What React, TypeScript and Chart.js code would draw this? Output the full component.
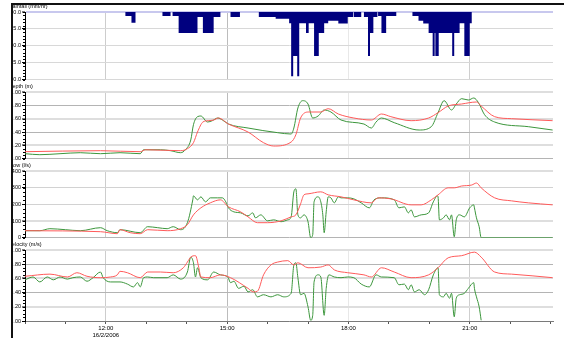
import React, { useEffect, useRef } from 'react';
import { Chart, registerables } from 'chart.js';
Chart.register(...registerables);

const FONT = '"Liberation Sans", Arial, sans-serif';

// ---------- DATA ----------
const xLabelHours = [12, 15, 18, 21];
const dateLabel = '16/2/2006';

const rainTimes = ['10:00','12:29','12:38','12:44','13:24','13:36','13:39','13:48','14:16','14:24','14:40','14:50','15:05','15:19','15:47','16:12','16:32','16:35','16:38','16:44','16:47','16:57','17:01','17:09','17:16','17:24','17:30','17:45','17:59','18:07','18:08','18:19','18:23','18:29','18:32','18:37','18:43','18:44','18:49','18:56','19:11','19:35','19:44','19:51','19:59','20:05','20:08','20:09','20:14','20:34','20:37','20:45','20:52','21:00','21:03','23:03'];
const rainValues = [0,1.2,3.2,0,1.2,0,1.2,6.2,1.5,6.2,1.5,0,1.5,0,1.5,2.0,3.3,19,13,19,3.3,6.2,3.3,13,6.2,3.3,2.6,3.4,1.5,0,1.5,0,1.5,13,6.2,1.5,0,1.2,6.2,1.2,0,1.2,2.6,3.4,6.2,13,6.2,13,6.2,13,6.2,3.3,13,3.3,0,0];

const depthObsTimes = ['10:00','10:22','10:52','11:22','11:52','12:21','12:51','12:56','13:21','13:36','13:51','13:58','14:06','14:10','14:16','14:21','14:31','14:38','14:46','14:53','15:02','15:31','16:15','16:35','16:39','16:45','16:52','17:00','17:07','17:15','17:24','17:34','17:49','18:23','18:34','18:41','18:49','19:08','19:45','20:03','20:13','20:22','20:33','20:40','20:48','20:58','21:06','21:13','21:22','21:37','22:27','23:03'];
const depthObsValues = [0.075,0.06,0.075,0.09,0.075,0.09,0.075,0.134,0.134,0.12,0.09,0.134,0.28,0.51,0.63,0.64,0.55,0.57,0.61,0.58,0.52,0.46,0.39,0.37,0.46,0.76,0.87,0.82,0.61,0.64,0.73,0.70,0.58,0.52,0.46,0.55,0.61,0.54,0.43,0.48,0.69,0.87,0.73,0.82,0.90,0.88,0.91,0.84,0.66,0.55,0.48,0.43];
const depthModTimes = ['10:00','11:52','12:51','12:59','13:51','14:01','14:10','14:16','14:24','14:32','14:40','14:47','15:02','15:31','15:54','16:09','16:35','16:42','16:49','17:01','17:19','17:30','17:45','18:08','18:34','18:49','19:03','19:33','19:59','20:13','20:28','20:48','21:10','21:17','21:37','22:02','23:03'];
const depthModValues = [0.105,0.12,0.105,0.134,0.12,0.15,0.24,0.40,0.55,0.57,0.58,0.61,0.52,0.40,0.24,0.19,0.25,0.36,0.61,0.70,0.70,0.75,0.67,0.61,0.58,0.67,0.63,0.57,0.61,0.69,0.79,0.82,0.85,0.79,0.63,0.60,0.57];

const flowObsTimes = ['10:00','10:22','10:37','11:00','11:22','11:52','12:02','12:17','12:21','12:51','13:02','13:17','13:31','13:40','13:51','14:01','14:09','14:10','14:16','14:21','14:28','14:35','14:46','14:53','14:58','15:02','15:10','15:20','15:31','15:38','15:42','15:50','16:00','16:09','16:20','16:30','16:35','16:39','16:42','16:45','16:49','16:54','17:00','17:04','17:07','17:09','17:15','17:19','17:22','17:24','17:27','17:30','17:34','17:39','17:45','17:49','17:59','18:08','18:19','18:31','18:38','18:49','19:08','19:15','19:23','19:29','19:33','19:38','19:48','19:59','20:06','20:12','20:13','20:15','20:21','20:25','20:30','20:33','20:37','20:40','20:45','20:52','21:00','21:06','21:07','21:10','21:14','21:17','23:03'];
const flowObsValues = [42,42,54,48,42,60,42,30,48,30,66,60,54,66,48,90,227,251,227,245,215,239,239,239,215,179,155,149,131,149,119,137,101,107,96,107,125,275,293,137,119,137,96,0,18,215,245,215,137,30,155,245,239,209,245,239,239,233,209,179,227,239,227,179,185,149,167,125,137,149,215,251,245,107,119,137,107,137,6,107,137,125,179,197,179,119,66,0,0];
const flowModTimes = ['10:00','11:52','12:17','12:21','12:36','12:51','13:02','13:31','13:51','14:01','14:10','14:21','14:35','14:50','15:02','15:20','15:31','15:45','16:00','16:20','16:35','16:42','16:49','16:54','17:00','17:19','17:30','17:49','18:08','18:34','18:44','19:03','19:33','19:48','20:03','20:13','20:28','20:37','20:48','21:03','21:10','21:17','21:37','22:02','22:27','23:03'];
const flowModValues = [42,36,24,48,30,24,48,42,54,78,137,179,209,227,185,155,125,90,90,101,125,137,203,257,263,275,257,245,227,209,239,233,197,197,227,257,299,299,310,316,328,299,239,221,209,197];

const velObsTimes = ['10:00','10:12','10:22','10:33','10:42','10:52','11:03','11:11','11:22','11:32','11:41','11:52','11:56','12:07','12:21','12:32','12:41','12:47','12:51','12:56','13:02','13:11','13:31','13:40','13:51','14:01','14:06','14:10','14:13','14:16','14:21','14:31','14:40','14:50','15:01','15:05','15:10','15:17','15:25','15:31','15:38','15:45','15:54','16:05','16:15','16:24','16:35','16:39','16:42','16:45','16:49','16:54','17:00','17:04','17:07','17:09','17:15','17:19','17:24','17:27','17:31','17:39','17:49','17:59','18:08','18:19','18:31','18:41','18:49','19:08','19:15','19:23','19:29','19:33','19:38','19:45','19:53','19:59','20:06','20:13','20:15','20:21','20:25','20:30','20:33','20:37','20:40','20:45','20:52','20:58','21:06','21:07','21:10','21:14','21:17'];
const velObsValues = [0.58,0.62,0.55,0.62,0.58,0.62,0.59,0.61,0.62,0.56,0.61,0.69,0.61,0.55,0.55,0.52,0.48,0.54,0.48,0.61,0.62,0.61,0.61,0.65,0.59,0.69,0.90,0.82,0.62,0.75,0.61,0.58,0.69,0.65,0.62,0.54,0.56,0.46,0.49,0.41,0.44,0.34,0.37,0.34,0.37,0.34,0.39,0.79,0.82,0.61,0.37,0.39,0.20,0.01,0.08,0.55,0.65,0.62,0.08,0.46,0.65,0.62,0.61,0.62,0.61,0.52,0.48,0.65,0.62,0.61,0.51,0.52,0.44,0.51,0.41,0.44,0.37,0.44,0.65,0.75,0.37,0.34,0.39,0.32,0.39,0.06,0.32,0.37,0.39,0.46,0.54,0.46,0.34,0.20,0.01];
const velModTimes = ['10:00','10:37','11:03','11:17','11:32','11:52','12:07','12:17','12:21','12:32','12:51','13:02','13:21','13:40','13:55','14:01','14:06','14:13','14:18','14:21','14:35','14:50','15:05','15:31','15:39','15:45','15:54','16:05','16:15','16:30','16:39','16:45','17:00','17:19','17:30','17:39','17:59','18:23','18:34','18:49','19:08','19:33','19:59','20:13','20:28','20:48','21:07','21:17','21:37','22:02','23:03'];
const velModValues = [0.63,0.66,0.62,0.68,0.63,0.61,0.62,0.65,0.70,0.68,0.61,0.69,0.69,0.68,0.75,0.83,0.90,0.92,0.75,0.62,0.61,0.65,0.61,0.46,0.41,0.42,0.65,0.79,0.83,0.85,0.79,0.82,0.75,0.76,0.79,0.72,0.68,0.65,0.62,0.75,0.69,0.61,0.65,0.75,0.89,0.92,0.97,0.90,0.69,0.66,0.61];

// ---------- HELPERS ----------
const toHours = (s: string) => {
  const [h, m] = s.split(':').map(Number);
  return h + m / 60;
};
const pts = (times: string[], values: number[]) =>
  times.map((t, i) => ({ x: toHours(t), y: values[i] }));

const X_MIN = 10;
const X_MAX = 23.06;
const hourTicks: number[] = [];
for (let h = 10; h <= 23; h++) hourTicks.push(h);
const fmtHour = (v: number) => `${v}:00`;

const RED = '#ff5a5a';
const GREEN = '#3c963c';
const NAVY = '#00007f';

const lineDs = (data: any[], color: string) => ({
  type: 'line',
  data,
  borderColor: color,
  backgroundColor: color,
  borderWidth: 1,
  pointRadius: 0,
  fill: false,
  cubicInterpolationMode: 'monotone',
});

const panelDecor = {
  id: 'panelDecor',
  afterDraw(chart: any, _args: any, opts: any) {
    const { ctx, chartArea } = chart;
    const y = chart.scales.y;
    ctx.save();
    if (opts.minorStep) {
      ctx.strokeStyle = '#000';
      ctx.lineWidth = 1;
      ctx.beginPath();
      const lo = Math.min(y.min, y.max);
      const hi = Math.max(y.min, y.max);
      for (let v = lo; v <= hi + 1e-9; v += opts.minorStep) {
        const py = Math.round(y.getPixelForValue(v)) + 0.5;
        ctx.moveTo(chartArea.left - 2, py);
        ctx.lineTo(chartArea.left, py);
      }
      ctx.stroke();
    }
    ctx.font = `5.5px ${FONT}`;
    ctx.fillStyle = '#000';
    ctx.textAlign = 'left';
    ctx.textBaseline = 'middle';
    ctx.fillText(opts.title, -4.5, chartArea.top - 6);
    ctx.restore();
  },
};

type PanelSpec = {
  title: string;
  datasets: any[];
  min: number;
  max: number;
  step: number;
  minorStep: number;
  decimals: number;
  reverse?: boolean;
  showX?: boolean;
  padBottom: number;
  gridColor: (v: number, i: number) => string;
  gridWidth: (v: number, i: number) => number;
};

const vColor: Record<number, string> = { 12: '#cdcdcd', 15: '#bcbcbc', 18: '#e8e8e8', 21: '#cfcfcf' };

function makeConfig(p: PanelSpec): any {
  return {
    type: 'line',
    data: { datasets: p.datasets },
    plugins: [panelDecor],
    options: {
      animation: false,
      responsive: false,
      maintainAspectRatio: false,
      events: [],
      layout: { padding: { top: 12, right: 11, bottom: p.padBottom, left: 0 } },
      plugins: {
        legend: { display: false },
        tooltip: { enabled: false },
        panelDecor: { title: p.title, minorStep: p.minorStep },
      },
      scales: {
        x: {
          type: 'linear',
          min: X_MIN,
          max: X_MAX,
          afterBuildTicks: (s: any) => {
            s.ticks = hourTicks.map((value) => ({ value }));
          },
          afterFit: (s: any) => {
            s.height = p.showX ? 17 : 0;
          },
          grid: {
            color: (c: any) => (c.tick && vColor[c.tick.value]) || 'rgba(0,0,0,0)',
            lineWidth: 1,
            drawTicks: !!p.showX,
            tickLength: 3,
            tickWidth: 1,
            tickColor: '#555',
          },
          border: { display: !!p.showX, color: '#7a7a7a', width: 1 },
          ticks: {
            display: !!p.showX,
            autoSkip: false,
            maxRotation: 0,
            padding: 1,
            color: '#000',
            font: { family: FONT, size: 6 },
            callback: (v: number) =>
              xLabelHours.includes(v) ? (v === xLabelHours[0] ? [fmtHour(v), dateLabel] : fmtHour(v)) : '',
          },
        },
        y: {
          type: 'linear',
          min: p.min,
          max: p.max,
          reverse: !!p.reverse,
          afterFit: (s: any) => {
            s.width = 12;
          },
          ticks: {
            stepSize: p.step,
            padding: 1,
            color: '#000',
            font: { family: FONT, size: 5.5 },
            callback: (v: number) => Number(v).toFixed(p.decimals),
          },
          grid: {
            color: (c: any) => p.gridColor(c.tick ? c.tick.value : 0, c.index),
            lineWidth: (c: any) => p.gridWidth(c.tick ? c.tick.value : 0, c.index),
            drawTicks: true,
            tickLength: 3,
            tickWidth: 1,
            tickColor: '#000',
          },
          border: { display: true, color: '#000', width: 1 },
        },
      },
    },
  };
}

const altColor = (_v: number, i: number) => (i % 2 === 0 ? '#b4b4b4' : '#dedede');
const altWidth = (_v: number, i: number) => (i % 2 === 0 ? 1 : 2);

const panels: { top: number; height: number; spec: PanelSpec }[] = [
  {
    top: 0,
    height: 84,
    spec: {
      title: 'Rainfall (mm/hr)',
      datasets: [
        {
          type: 'line',
          data: pts(rainTimes, rainValues),
          stepped: 'before',
          borderWidth: 0,
          borderColor: NAVY,
          backgroundColor: NAVY,
          pointRadius: 0,
          fill: 'origin',
        },
      ],
      min: 0,
      max: 20,
      step: 5,
      minorStep: 1,
      decimals: 1,
      reverse: true,
      padBottom: 4,
      gridColor: (v) => (v === 0 ? '#c8c8ee' : '#d8d8d8'),
      gridWidth: (v) => (v === 0 ? 2 : 1),
    },
  },
  {
    top: 80,
    height: 83,
    spec: {
      title: 'Depth (m)',
      datasets: [lineDs(pts(depthModTimes, depthModValues), RED), lineDs(pts(depthObsTimes, depthObsValues), GREEN)],
      min: 0,
      max: 1,
      step: 0.2,
      minorStep: 0.05,
      decimals: 2,
      padBottom: 4,
      gridColor: altColor,
      gridWidth: altWidth,
    },
  },
  {
    top: 159,
    height: 83,
    spec: {
      title: 'Flow (l/s)',
      datasets: [lineDs(pts(flowModTimes, flowModValues), RED), lineDs(pts(flowObsTimes, flowObsValues), GREEN)],
      min: 0,
      max: 400,
      step: 100,
      minorStep: 25,
      decimals: 0,
      padBottom: 4,
      gridColor: (_v, i) => (i === 0 ? '#b4b4b4' : i === 1 || i === 4 ? '#dedede' : '#d2d2d2'),
      gridWidth: (_v, i) => (i === 1 || i === 4 ? 2 : 1),
    },
  },
  {
    top: 238,
    height: 100,
    spec: {
      title: 'Velocity (m/s)',
      datasets: [lineDs(pts(velModTimes, velModValues), RED), lineDs(pts(velObsTimes, velObsValues), GREEN)],
      min: 0,
      max: 1,
      step: 0.2,
      minorStep: 0.05,
      decimals: 2,
      showX: true,
      padBottom: 0,
      gridColor: altColor,
      gridWidth: altWidth,
    },
  },
];

function Panel({ top, height, spec }: { top: number; height: number; spec: PanelSpec }) {
  const ref = useRef<HTMLCanvasElement>(null);
  useEffect(() => {
    const chart = new Chart(ref.current as HTMLCanvasElement, makeConfig(spec));
    return () => chart.destroy();
  }, []);
  return (
    <canvas
      ref={ref}
      width={551}
      height={height}
      style={{ position: 'absolute', left: 13, top, width: 551, height }}
    />
  );
}

export default function App() {
  return (
    <div
      style={{
        position: 'fixed',
        left: 0,
        top: 0,
        width: 564,
        height: 338,
        background: '#fff',
        overflow: 'hidden',
      }}
    >
      {panels.map((p, i) => (
        <Panel key={i} top={p.top} height={p.height} spec={p.spec} />
      ))}
      <div style={{ position: 'absolute', left: 11, top: 3, width: 553, height: 2, background: '#111' }} />
      <div style={{ position: 'absolute', left: 11, top: 3, width: 2, height: 335, background: '#111' }} />
    </div>
  );
}
